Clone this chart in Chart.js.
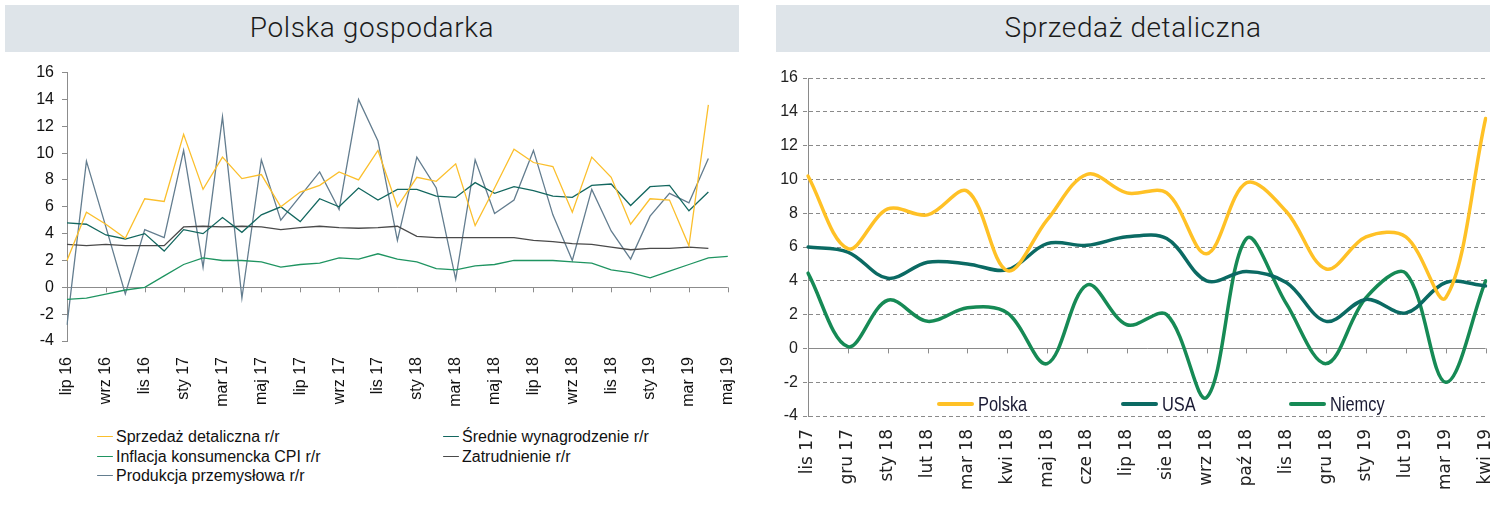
<!DOCTYPE html>
<html lang="pl">
<head>
<meta charset="UTF-8">
<title>Polska gospodarka / Sprzedaż detaliczna</title>
<script src="https://cdn.jsdelivr.net/npm/chart.js"></script>
<style>
  body { margin: 0; width: 1497px; height: 507px; background: #fff; position: relative; overflow: hidden;
         font-family: 'Liberation Sans', Arial, sans-serif; }
  .title { position: absolute; top: 5px; height: 47px; line-height: 46px; background: #dee4e9; text-align: center;
           font-family: Roboto, sans-serif; font-weight: 300; font-size: 28px; color: #1b1b1b; letter-spacing: 0.6px; }
  .box { position: absolute; }
  .sw { position: absolute; height: 0; }
  .txt { position: absolute; white-space: nowrap; transform-origin: left center; }
  .leftLeg { font-size: 16px; color: #111; }
  .rightLeg { font-family: 'Liberation Sans Narrow', 'Liberation Sans', sans-serif; font-size: 20px; color: #1a1a33; }
</style>
</head>
<body>
  <div class="title" style="left:5px; width:734px;">Polska gospodarka</div>
  <div class="title" style="left:776px; width:714px;">Sprzedaż detaliczna</div>

  <!-- szerokości dobrane tak, żeby obszar wykresu kończył się tam gdzie w oryginale -->
  <div class="box" style="left:0; top:55px; width:755px; height:360px;"><canvas id="left"></canvas></div>
  <div class="box" style="left:760px; top:55px; width:751px; height:452px;"><canvas id="right"></canvas></div>
  <div id="legends"></div>

<script>
// ---------- dane: lewy wykres (miesięcznie lip 16 - maj 19) ----------
const leftMonths = ['lip 16','sie 16','wrz 16','paź 16','lis 16','gru 16',
  'sty 17','lut 17','mar 17','kwi 17','maj 17','cze 17','lip 17','sie 17','wrz 17','paź 17','lis 17','gru 17',
  'sty 18','lut 18','mar 18','kwi 18','maj 18','cze 18','lip 18','sie 18','wrz 18','paź 18','lis 18','gru 18',
  'sty 19','lut 19','mar 19','kwi 19','maj 19'];

const sprzedaz = [2.0, 5.6, 4.7, 3.65, 6.6, 6.4, 11.4, 7.3, 9.7, 8.1, 8.4, 6.0, 7.1, 7.6, 8.6, 8.0, 10.2,
  6.0, 8.2, 7.9, 9.2, 4.6, 7.4, 10.3, 9.3, 9.0, 5.6, 9.7, 8.2, 4.7, 6.6, 6.5, 3.1, 13.6, null];
const wynagrodzenie = [4.8, 4.7, 3.9, 3.6, 4.0, 2.7, 4.3, 4.0, 5.2, 4.1, 5.4, 6.0, 4.9, 6.6, 6.0, 7.4, 6.5,
  7.3, 7.3, 6.8, 6.7, 7.8, 7.0, 7.5, 7.2, 6.8, 6.7, 7.6, 7.7, 6.1, 7.5, 7.6, 5.7, 7.1, null];
const inflacja = [-0.9, -0.8, -0.5, -0.2, 0.0, 0.85, 1.7, 2.2, 2.0, 2.0, 1.9, 1.5, 1.7, 1.8, 2.2, 2.1, 2.5,
  2.1, 1.9, 1.4, 1.3, 1.6, 1.7, 2.0, 2.0, 2.0, 1.9, 1.8, 1.3, 1.1, 0.7, 1.2, 1.7, 2.2, 2.3];
const zatrudnienie = [3.2, 3.1, 3.2, 3.1, 3.1, 3.1, 4.5, 4.55, 4.5, 4.55, 4.5, 4.3, 4.45, 4.55, 4.45, 4.4, 4.45,
  4.55, 3.8, 3.7, 3.7, 3.7, 3.7, 3.7, 3.5, 3.4, 3.25, 3.2, 3.0, 2.8, 2.9, 2.9, 3.0, 2.9, null];
const produkcja = [-2.8, 9.4, 4.5, -0.5, 4.3, 3.7, 10.2, 1.5, 12.7, -0.8, 9.5, 5.0, 6.8, 8.6, 5.8, 14.0, 10.9,
  3.5, 9.7, 7.4, 0.6, 9.5, 5.5, 6.5, 10.2, 5.4, 2.0, 7.3, 4.2, 2.1, 5.3, 7.0, 6.3, 9.6, null];

const leftYTicks = { min: -4, max: 16, step: 2 };

// ---------- dane: prawy wykres (lis 17 - kwi 19) ----------
const rightMonths = ['lis 17','gru 17','sty 18','lut 18','mar 18','kwi 18','maj 18','cze 18','lip 18',
  'sie 18','wrz 18','paź 18','lis 18','gru 18','sty 19','lut 19','mar 19','kwi 19'];
const polska = [10.2, 5.9, 8.25, 7.9, 9.3, 4.6, 7.6, 10.3, 9.2, 9.2, 5.6, 9.8, 8.1, 4.7, 6.6, 6.6, 3.0, 13.6];
const usa    = [6.0, 5.7, 4.15, 5.1, 5.0, 4.65, 6.2, 6.1, 6.6, 6.5, 4.0, 4.55, 3.9, 1.6, 2.9, 2.1, 3.9, 3.7];
const niemcy = [4.45, 0.1, 2.85, 1.6, 2.4, 2.1, -0.9, 3.75, 1.4, 2.0, -2.9, 6.5, 2.65, -0.9, 3.0, 4.45, -2.0, 4.0];

const rightYTicks = { min: -4, max: 16, step: 2 };

// kolory
const C = {
  sprzedaz: '#fbbf2c', wynagr: '#13675f', inflacja: '#1f9461', zatr: '#4a4a4a', prod: '#637d8f',
  polska: '#ffc126', usa: '#0b6a63', niemcy: '#168a55'
};

// małe kreski na osi zero (oś X przecina w 0)
const zeroTicks = {
  id: 'zeroTicks',
  beforeDatasetsDraw(chart, args, opts) {
    const x = chart.scales.x, y = chart.scales.y;
    const y0 = y.getPixelForValue(0);
    const ctx = chart.ctx;
    ctx.save();
    ctx.strokeStyle = opts.color;
    ctx.lineWidth = 1;
    ctx.beginPath();
    for (let i = 0; i < chart.data.labels.length; i += opts.every) {
      const px = Math.round(x.getPixelForValue(i)) + 0.5;
      ctx.moveTo(px, y0);
      ctx.lineTo(px, y0 + opts.len);
    }
    ctx.stroke();
    ctx.restore();
  }
};

// ------------------------------ lewy ------------------------------
const leftSets = [
  { label: 'Sprzedaż detaliczna r/r', data: sprzedaz, borderColor: C.sprzedaz },
  { label: 'Średnie wynagrodzenie r/r', data: wynagrodzenie, borderColor: C.wynagr },
  { label: 'Inflacja konsumencka CPI r/r', data: inflacja, borderColor: C.inflacja },
  { label: 'Zatrudnienie r/r', data: zatrudnienie, borderColor: C.zatr },
  { label: 'Produkcja przemysłowa r/r', data: produkcja, borderColor: C.prod }
];

new Chart(document.getElementById('left'), {
  type: 'line',
  data: {
    labels: leftMonths,
    datasets: leftSets.map(d => Object.assign({ borderWidth: 1.3, pointRadius: 0, tension: 0, spanGaps: false }, d))
  },
  plugins: [zeroTicks],
  options: {
    responsive: true,
    maintainAspectRatio: false,
    animation: false,
    layout: { padding: { top: 12, right: 8, left: 0, bottom: 0 } },
    plugins: {
      legend: { display: false },
      tooltip: { enabled: false },
      zeroTicks: { every: 2, len: 5, color: '#8c8c8c' }
    },
    scales: {
      x: {
        grid: { display: false },
        border: { display: false },
        ticks: {
          autoSkip: false, minRotation: 90, maxRotation: 90, padding: 8,
          color: '#111', font: { family: "'Liberation Sans', Arial", size: 16 },
          callback: (v, i) => (i % 2 === 0 ? leftMonths[i] : null)
        },
        afterFit: s => { s.height = 74; }
      },
      y: {
        min: leftYTicks.min, max: leftYTicks.max,
        grid: {
          color: c => (c.tick && c.tick.value === 0 ? '#8c8c8c' : 'rgba(0,0,0,0)'),
          tickColor: '#8c8c8c', tickLength: 5, lineWidth: 1
        },
        border: { display: true, color: '#8c8c8c' },
        ticks: {
          stepSize: leftYTicks.step, padding: 8, color: '#111',
          font: { family: "'Liberation Sans', Arial", size: 16 }
        },
        afterFit: s => { s.width = 67; }
      }
    }
  }
});

// ------------------------------ prawy ------------------------------
const rightSets = [
  { label: 'Polska', data: polska, borderColor: C.polska },
  { label: 'USA', data: usa, borderColor: C.usa },
  { label: 'Niemcy', data: niemcy, borderColor: C.niemcy }
];

new Chart(document.getElementById('right'), {
  type: 'line',
  data: {
    labels: rightMonths,
    datasets: rightSets.map(d => Object.assign({ borderWidth: 3.5, pointRadius: 0, tension: 0.35, borderCapStyle: 'round' }, d))
  },
  plugins: [zeroTicks],
  options: {
    responsive: true,
    maintainAspectRatio: false,
    animation: false,
    layout: { padding: { top: 23, right: 2, left: 0, bottom: 0 } },
    plugins: {
      legend: { display: false },
      tooltip: { enabled: false },
      zeroTicks: { every: 1, len: 5, color: '#8c8c8c' }
    },
    scales: {
      x: {
        grid: { display: false },
        border: { display: false },
        ticks: {
          autoSkip: false, minRotation: 90, maxRotation: 90, padding: 5,
          color: '#222', font: { family: "'DejaVu Sans'", size: 17 }
        },
        afterFit: s => { s.height = 91; }
      },
      y: {
        min: rightYTicks.min, max: rightYTicks.max,
        grid: { color: '#8a8a8a', tickLength: 5, lineWidth: 1, tickBorderDash: [4, 3] },
        border: { display: true, color: '#8a8a8a', dash: c => (c.tick && c.tick.value === 0 ? [] : [4, 3]) },
        ticks: {
          stepSize: rightYTicks.step, padding: 5, color: '#222',
          font: { family: "'Liberation Sans Narrow', 'Liberation Sans'", size: 16 }
        },
        afterFit: s => { s.width = 48; }
      }
    }
  }
});

// ------------------------------ legendy (HTML) ------------------------------
const legendsEl = document.getElementById('legends');
function addItem(cls, label, color, x, y, swW, swH, gap, squeeze) {
  const sw = document.createElement('div');
  sw.className = 'sw';
  sw.style.left = x + 'px';
  sw.style.width = swW + 'px';
  sw.style.top = (y - swH / 2) + 'px';
  sw.style.borderTop = swH + 'px solid ' + color;
  sw.style.borderRadius = (swH / 2) + 'px';
  legendsEl.appendChild(sw);

  const t = document.createElement('div');
  t.className = 'txt ' + cls;
  t.style.left = (x + swW + gap) + 'px';
  t.style.top = y + 'px';
  t.style.transform = 'translateY(-50%) scaleX(' + squeeze + ')';
  t.textContent = label;
  legendsEl.appendChild(t);
}
const leftLegPos = [[97, 437], [443, 437], [97, 457], [443, 457], [97, 476]];
leftSets.forEach((d, i) => addItem('leftLeg', d.label, d.borderColor, leftLegPos[i][0], leftLegPos[i][1], 16, 1.5, 3, 1));
const rightLegPos = [[937, 404], [1121, 404], [1289, 404]];
rightSets.forEach((d, i) => addItem('rightLeg', d.label, d.borderColor, rightLegPos[i][0], rightLegPos[i][1], 37, 4, 4, 0.82));
</script>
</body>
</html>
